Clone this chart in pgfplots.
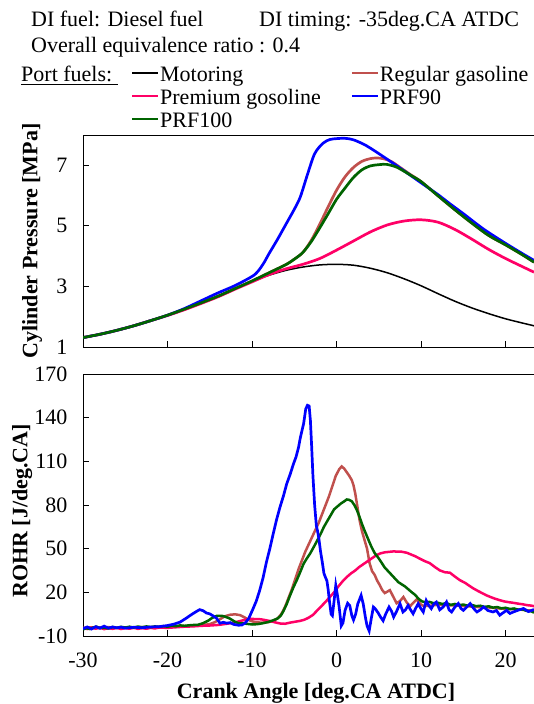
\documentclass[border=0pt]{standalone}
\usepackage{fontspec}
\setmainfont{Liberation Serif}
\usepackage{pgfplots}
\pgfplotsset{compat=1.18}

\newcommand\fs{\fontsize{22}{26}\selectfont}

\definecolor{cblack}{RGB}{0,0,0}
\definecolor{creg}{RGB}{192,80,77}
\definecolor{cprem}{RGB}{255,0,102}
\definecolor{cprf90}{RGB}{0,0,255}
\definecolor{cprf100}{RGB}{0,100,0}

\pgfplotsset{
  frame/.style={
    scale only axis, width=451pt,
    xmin=-30, xmax=23.35,
    axis x line*=box, axis y line*=left,
    xtick={-30,-20,-10,0,10,20},
    xtick pos=bottom, ytick pos=left,
    tick align=inside, major tick length=6pt,
    axis line style={line width=0.9pt},
    every tick/.style={black, line width=0.9pt},
    tick label style={font=\fs},
    xticklabel style={yshift=-13pt},
    yticklabel style={xshift=-12pt},
    label style={font=\fs\bfseries},
  },
}

\begin{document}
\begin{tikzpicture}[font=\fs]
\useasboundingbox (0,0) rectangle (534pt,704pt);

% header text
\node[anchor=base west, inner sep=0pt] at (31pt,677pt) {DI fuel: Diesel fuel};
\node[anchor=base west, inner sep=0pt] at (259pt,677pt) {DI timing: -35deg.CA ATDC};
\node[anchor=base west, inner sep=0pt] at (31pt,651pt) {Overall equivalence ratio : 0.4};
\node[anchor=base west, inner sep=0pt] at (21pt,622pt) {\underline{Port fuels:\ }};

% cylinder pressure
\begin{axis}[frame,
  height=212pt, at={(83pt,357pt)}, anchor=south west,
  ymin=1, ymax=8,
  xticklabels={},
  ytick={1,3,5,7}, yticklabels={1,3,5,7},
  ylabel={Cylinder Pressure [MPa]},
  ylabel style={at={(axis description cs:-0.113,0.5)}, anchor=center},
  legend columns=2, legend cell align=left,
  legend image code/.code={\draw[#1, line width=2pt] (0pt,3pt) -- (26pt,3pt);},
  legend style={draw=none, fill=none, inner sep=0pt, font=\fs,
    at={(axis description cs:0.1064,1.3335)}, anchor=north west,
    nodes={inner xsep=1pt, inner ysep=1pt, text height=16pt, text depth=5pt},
    /tikz/every even column/.append style={column sep=29pt}},
]
\addplot[cblack, line width=1.5pt, smooth] coordinates {
(-30,1.31)(-28,1.42)(-26,1.55)(-24,1.70)(-22,1.87)(-20,2.05)(-18,2.25)(-16,2.46)
(-14,2.68)(-12,2.93)(-10,3.17)(-8,3.37)(-6,3.53)(-4,3.64)(-2,3.71)(0,3.73)
(2,3.70)(4,3.60)(6,3.45)(8,3.25)(10,3.02)(12,2.76)(14,2.51)(16,2.29)
(18,2.10)(20,1.93)(22,1.79)(23.35,1.70)};
\addlegendentry{Motoring}
\addplot[creg, line width=2.7pt, smooth] coordinates {
(-30,1.31)(-28,1.42)(-26,1.55)(-24,1.70)(-22,1.87)(-20,2.05)(-18,2.25)(-16,2.46)
(-14,2.68)(-12,2.93)(-10,3.18)(-8,3.45)(-6,3.72)(-5,3.90)(-4,4.12)(-3,4.52)
(-2,5.05)(-1,5.63)(0,6.18)(1,6.62)(2,6.93)(3,7.13)(4,7.22)(4.7,7.24)(5.5,7.22)
(6.5,7.12)(7.5,6.93)(8.7,6.70)(10,6.46)(12,5.99)(14,5.53)(16,5.09)(18,4.68)
(20,4.37)(22,4.04)(23.35,3.80)};
\addlegendentry{Regular gasoline}
\addplot[cprem, line width=2.7pt, smooth] coordinates {
(-30,1.31)(-28,1.42)(-26,1.55)(-24,1.70)(-22,1.87)(-20,2.04)(-18,2.23)(-16,2.44)
(-14,2.66)(-12,2.91)(-10,3.15)(-8,3.39)(-6,3.58)(-4,3.73)(-2,3.92)(0,4.20)
(2,4.50)(4,4.80)(6,5.03)(8,5.16)(10,5.20)(12,5.12)(14,4.88)(16,4.56)
(18,4.22)(20,3.92)(22,3.65)(23.35,3.47)};
\addlegendentry{Premium gosoline}
\addplot[cprf90, line width=2.7pt, smooth] coordinates {
(-30,1.31)(-28,1.42)(-26,1.55)(-24,1.70)(-22,1.87)(-20,2.05)(-18,2.27)(-16,2.53)
(-14,2.79)(-12,3.03)(-10,3.33)(-9.3,3.50)(-8.6,3.78)(-8,4.08)(-7,4.55)(-6,5.05)
(-5,5.55)(-4.3,5.95)(-3.5,6.65)(-2.6,7.38)(-1.6,7.73)(-0.8,7.85)(0,7.88)(1,7.89)
(2,7.84)(3.5,7.65)(5.5,7.29)(7.5,6.91)(10,6.42)(12,6.03)(13.4,5.73)(15,5.40)
(17.4,4.89)(20,4.42)(22,4.08)(23.35,3.86)};
\addlegendentry{PRF90}
\addplot[cprf100, line width=2.7pt, smooth] coordinates {
(-30,1.31)(-28,1.42)(-26,1.55)(-24,1.70)(-22,1.87)(-20,2.05)(-18,2.25)(-16,2.46)
(-14,2.68)(-12,2.93)(-10,3.18)(-8,3.45)(-6,3.72)(-5,3.90)(-4,4.12)(-3,4.48)
(-2,4.93)(-1,5.40)(0,5.88)(1,6.25)(2,6.60)(3,6.85)(4,6.98)(5,7.02)(5.9,7.03)
(7,6.95)(8,6.80)(9,6.63)(10,6.46)(12,5.99)(14,5.53)(16,5.09)(18,4.68)
(20,4.37)(22,4.04)(23.35,3.80)};
\addlegendentry{PRF100}
\end{axis}

% rate of heat release
\begin{axis}[frame,
  height=262pt, at={(83pt,68pt)}, anchor=south west,
  ymin=-10, ymax=170,
  xticklabels={-30,-20,-10,0,10,20},
  ytick={-10,20,50,80,110,140,170}, yticklabels={-10,20,50,80,110,140,170},
  xlabel={Crank Angle [deg.CA ATDC]},
  xlabel style={at={(axis description cs:0.5166,-0.2176)}, anchor=center},
  ylabel={ROHR [J/deg.CA]},
  ylabel style={at={(axis description cs:-0.135,0.478)}, anchor=center},
]
\addplot[creg, line width=2.5pt] coordinates {
(-30,-4.5)(-29,-4.0)(-28,-4.6)(-27,-3.9)(-26,-4.5)(-25,-4.0)(-24,-4.4)(-23,-3.9)
(-22,-4.2)(-21,-3.8)(-20,-3.6)(-19,-3.5)(-18,-3.2)(-17,-3.0)(-16,-2.6)(-15,-1.8)
(-14.4,-0.5)(-13.8,1.5)(-13.2,3.6)(-12.6,4.6)(-12.0,4.9)(-11.4,4.3)(-10.8,2.5)
(-10.2,0.5)(-9.6,-0.6)(-8.8,-0.8)(-8.0,-0.4)(-7.4,0.5)(-6.9,2.5)(-6.5,5.5)
(-6.1,10)(-5.7,16)(-5.3,22)(-4.9,29)(-4.5,36)(-4.1,42)(-3.7,48)(-3.3,53)
(-2.9,58)(-2.5,63)(-2.1,68)(-1.7,74)(-1.3,80)(-0.9,86)(-0.5,93)(-0.1,100)
(0.3,104.5)(0.6,106.5)(0.9,105)(1.2,102.5)(1.5,100)(1.8,97)(2.0,93.5)(2.2,88)
(2.4,81)(2.7,70)(3.0,62)(3.3,56)(3.6,50)(3.9,40)(4.2,34.5)(4.5,32)(4.8,28)
(5.1,25)(5.4,21.5)(5.7,19.5)(6.0,20.5)(6.3,21.5)(6.7,17)(7.1,12.5)(7.5,14)
(7.9,16.8)(8.3,13)(8.7,10.5)(9.1,13)(9.5,15.2)(9.9,12)(10.3,10.5)(11,10.8)
(12,11.5)(13,11.2)(14,11)(15,10.6)(16,10.2)(17,9.8)(18,9.6)(19,9.0)(20,8.6)
(21,8.4)(22,8.0)(23.35,7.2)};
\addplot[cprem, line width=2.5pt] coordinates {
(-30,-4.5)(-29.5,-5.2)(-29,-4.3)(-28.5,-5.0)(-28,-4.2)(-27.5,-5.3)(-27,-4.6)
(-26.5,-5.1)(-26,-4.4)(-25.5,-5.2)(-25,-4.6)(-24.5,-5.0)(-24,-4.3)(-23.5,-5.1)
(-23,-4.6)(-22.5,-5.0)(-22,-4.4)(-21.5,-4.8)(-21,-4.2)(-20,-4.4)(-19,-4.0)
(-18,-3.6)(-17,-3.4)(-16,-3.0)(-15,-2.8)(-14,-2.4)(-13,-1.6)(-12.2,-0.9)
(-11.4,0.3)(-10.8,1.2)(-10.3,1.9)(-9.6,1.6)(-9.0,1.5)(-8.4,0.9)(-7.9,0.3)
(-7.3,-0.6)(-6.7,-1.4)(-6.1,-1.6)(-5.5,-0.8)(-4.9,-0.2)(-4.3,0.4)(-3.8,1.2)
(-3.3,2.6)(-2.8,4.5)(-2.3,7.5)(-1.8,10.5)(-1.3,13.5)(-0.8,16.8)(-0.3,20)
(0.2,24)(0.7,27.5)(1.2,30.5)(1.7,33)(2.2,35)(2.7,37.5)(3.2,39.5)(3.7,41.5)
(4.2,43.5)(4.7,45.5)(5.2,46.8)(5.7,47.5)(6.2,47.8)(6.7,48.1)(7.2,48)(7.7,47.9)
(8.3,47.2)(8.8,46)(9.3,44.8)(9.85,43.1)(10.4,41.5)(11,40.1)(11.6,37.5)
(12.2,35.1)(12.8,33.8)(13.4,33.5)(14,30.8)(14.6,28.3)(15.2,26.5)(15.7,24.5)
(16.2,22.6)(16.7,21)(17.2,19.5)(17.7,18)(18.2,16.8)(18.7,15.7)(19.3,14.6)
(19.8,13.8)(20.4,13.2)(20.9,12.8)(21.5,12.2)(22.0,11.8)(22.5,11.2)(23,10.9)
(23.35,10.5)};
\addplot[cprf100, line width=2.5pt] coordinates {
(-30,-5.5)(-29.6,-4.6)(-29.2,-5.2)(-28.8,-4.2)(-28.4,-3.6)(-28,-4.6)(-27.5,-4.2)
(-27,-4.8)(-26.5,-3.8)(-26,-4.4)(-25.5,-3.7)(-25,-4.2)(-24.5,-3.6)(-24,-4.2)
(-23.5,-3.5)(-23,-4)(-22.5,-3.4)(-22,-3.9)(-21.5,-3.4)(-21,-3.7)(-20.5,-3.2)
(-20,-3.6)(-19.5,-3.0)(-19,-3.3)(-18.5,-2.7)(-18,-3.0)(-17.2,-2.5)(-16.4,-2.3)
(-15.8,-1.2)(-15.2,0.5)(-14.7,2.5)(-14.2,3.8)(-13.6,3.9)(-13.2,3.3)(-12.6,1.9)
(-12.1,0)(-11.6,-1.2)(-11,-1.4)(-10.4,-1.8)(-9.9,-2.1)(-9.3,-1.8)(-8.7,-1.2)
(-8.1,-0.4)(-7.5,0.8)(-7.0,2)(-6.6,4)(-6.3,7)(-5.9,12)(-5.5,18)(-5.1,23.6)
(-4.7,28.5)(-4.3,34)(-3.9,39.7)(-3.5,43.5)(-3.1,47)(-2.7,51.2)(-2.3,55.5)
(-1.9,60)(-1.5,65)(-1.1,69)(-0.7,73)(-0.3,77)(0.1,79)(0.5,81)(0.9,82.5)
(1.2,83.8)(1.5,83.5)(1.8,82.5)(2.1,80)(2.4,76.5)(2.7,72)(3.0,67)(3.3,62.5)
(3.7,57)(4.1,51.5)(4.5,47)(4.9,44)(5.3,40.5)(5.7,37)(6.1,34.5)(6.5,32)
(6.9,29.5)(7.3,27)(7.7,25.5)(8.1,24)(8.5,22)(8.9,20)(9.3,18.2)(9.7,15.5)
(10.1,13.8)(10.5,13.2)(11,13.4)(11.5,12.5)(12,12.8)(12.5,12)(13,12.6)
(13.5,11.4)(14,12)(14.5,11.2)(15,11.6)(15.5,10.8)(16,11.3)(16.5,10.5)(17,10.8)
(17.5,10)(18,10.4)(18.5,9.5)(19,9.9)(19.5,9)(20,9.4)(20.5,8.5)(21,8.9)
(21.5,8)(22,8.3)(22.5,7.2)(23,7)(23.35,6)};
\addplot[cprf90, line width=2.7pt] coordinates {
(-30,-5.0)(-29.5,-3.8)(-29,-5.2)(-28.5,-3.6)(-28,-4.6)(-27.5,-3.2)(-27,-4.6)
(-26.5,-3.8)(-26,-4.4)(-25.5,-3.9)(-25,-4.6)(-24,-4.0)(-23,-4.3)(-22,-3.8)
(-21,-3.6)(-20,-2.8)(-19.2,-1.8)(-18.5,-0.4)(-17.8,2.2)(-17.2,4.6)(-16.6,6.8)
(-16.2,8.1)(-15.8,7.4)(-15.4,5.8)(-15,5.2)(-14.6,3.8)(-14.2,2.2)(-13.8,-1.2)
(-13.4,-0.6)(-13,-1.2)(-12.6,-0.8)(-12.2,-2.0)(-11.6,-2.6)(-11.2,-2.4)
(-10.8,-1.0)(-10.4,2.0)(-9.9,8.5)(-9.5,14)(-9.1,21.3)(-8.7,30)(-8.3,40.8)
(-7.9,50)(-7.5,60.2)(-7.1,70)(-6.7,78.5)(-6.3,86)(-5.9,94.6)(-5.5,101)
(-5.1,108.3)(-4.8,113)(-4.5,119.7)(-4.3,126)(-4.1,131)(-3.9,136)(-3.65,146)
(-3.45,148.5)(-3.25,148)(-3.1,138)(-2.95,120)(-2.8,100)(-2.6,80)(-2.4,66)
(-2.25,62)(-2.1,57)(-1.9,48)(-1.7,41)(-1.5,33)(-1.3,30)(-1.15,28)(-1.0,22)
(-0.85,14)(-0.65,5)(-0.5,4)(-0.3,14)(-0.1,24.8)(0.1,18)(0.3,10)(0.55,-3)
(0.75,-1)(1.0,7.6)(1.3,12.5)(1.55,11)(1.8,4)(2.0,1)(2.25,5)(2.5,12)(2.9,17.9)
(3.15,12)(3.4,3)(3.6,-3)(3.85,-6.5)(4.1,2)(4.35,9.9)(4.6,8.5)(4.9,6)(5.2,3)
(5.5,0.5)(5.8,5)(6.2,9.9)(6.5,7)(6.75,3)(7.1,7)(7.5,12.2)(7.85,6.5)(8.15,8)
(8.45,11)(8.75,8)(9.05,5.3)(9.35,9)(9.65,12.2)(9.95,9)(10.25,6.5)(10.6,14.4)
(10.9,11)(11.2,8.8)(11.5,12)(11.8,13.3)(12.2,8)(12.6,9.9)(13,13.4)(13.3,8)
(13.6,6.5)(14,10)(14.4,12.3)(14.7,9)(15,7.6)(15.4,10)(15.8,12.3)(16.2,9)
(16.6,6.5)(17,8)(17.4,10)(17.9,7.5)(18.5,6.5)(18.9,7.5)(19.3,4.3)(19.7,6)
(20.1,7.6)(20.5,5.5)(20.9,6.5)(21.5,7.8)(22.1,8.9)(22.7,6.8)(23.35,8.2)};
\end{axis}
\end{tikzpicture}
\end{document}
